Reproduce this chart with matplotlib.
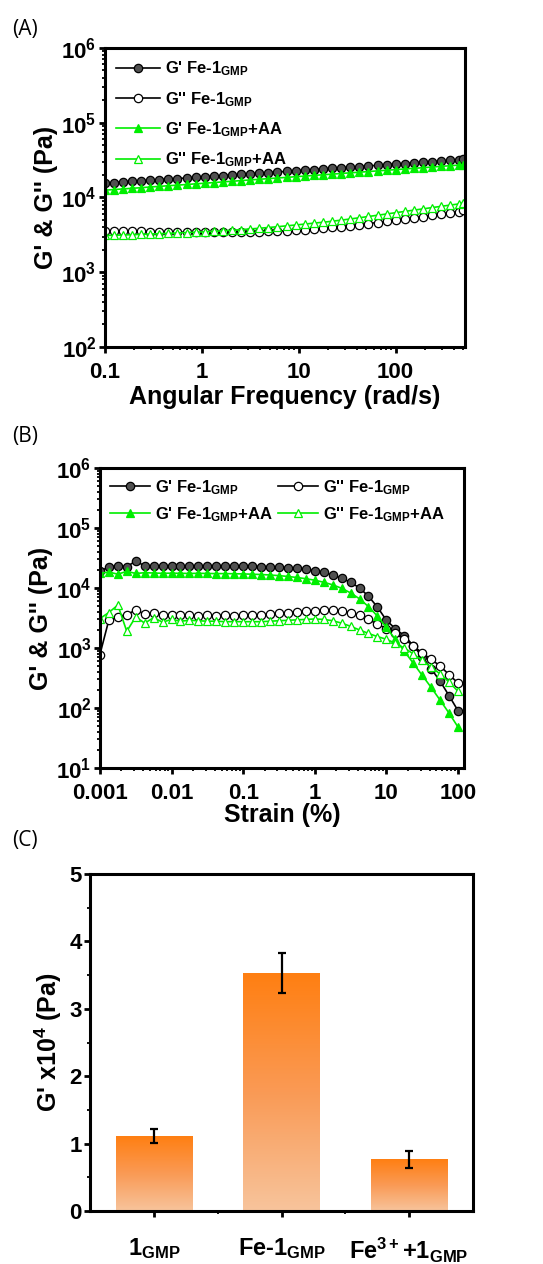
import numpy as np
import matplotlib
matplotlib.use('Agg')
import matplotlib.pyplot as plt
from matplotlib.colors import LinearSegmentedColormap
from matplotlib.ticker import LogLocator, FixedLocator, FuncFormatter, NullFormatter

plt.rcParams['font.family'] = ['Liberation Sans', 'DejaVu Sans']
plt.rcParams['font.weight'] = 'bold'
plt.rcParams['mathtext.fontset'] = 'custom'
plt.rcParams['mathtext.rm'] = 'Liberation Sans:bold'
plt.rcParams['mathtext.bf'] = 'Liberation Sans:bold'
plt.rcParams['mathtext.it'] = 'Liberation Sans:bold'

# ---- panel A data: frequency sweep ----
freq = [0.1, 0.124, 0.154, 0.191, 0.237, 0.294, 0.365, 0.453, 0.562, 0.698,
        0.866, 1.07, 1.33, 1.65, 2.05, 2.55, 3.16, 3.92, 4.87, 6.04,
        7.5, 9.31, 11.5, 14.3, 17.8, 22.1, 27.4, 34, 42.2, 52.4,
        65, 80.7, 100, 124, 154, 191, 237, 294, 365, 453, 500]
a_gp_fe = [15500, 15800, 16100, 16400, 16700, 17000, 17300, 17600, 17900, 18200,
           18500, 18900, 19200, 19600, 19900, 20300, 20700, 21100, 21500, 21900,
           22300, 22700, 23100, 23600, 24000, 24500, 24900, 25400, 25900, 26400,
           26900, 27400, 27900, 28400, 29000, 29500, 30100, 30600, 31200, 31800, 32200]
a_gpp_fe = [3600, 3580, 3560, 3540, 3520, 3500, 3480, 3460, 3440, 3420,
            3400, 3400, 3400, 3410, 3420, 3440, 3460, 3480, 3510, 3540,
            3580, 3640, 3700, 3780, 3870, 3970, 4080, 4200, 4330, 4470,
            4620, 4780, 4950, 5130, 5330, 5540, 5760, 5990, 6230, 6480, 6740]
a_gp_aa = [12500, 12750, 13000, 13250, 13500, 13800, 14050, 14350, 14600, 14900,
           15200, 15500, 15800, 16150, 16450, 16800, 17150, 17500, 17850, 18200,
           18550, 18950, 19300, 19700, 20100, 20500, 20900, 21350, 21750, 22200,
           22650, 23100, 23550, 24050, 24500, 25000, 25500, 26050, 26550, 27100, 27500]
a_gpp_aa = [3100, 3120, 3150, 3180, 3210, 3240, 3280, 3310, 3350, 3390,
            3430, 3470, 3520, 3580, 3640, 3710, 3790, 3870, 3960, 4060,
            4170, 4280, 4400, 4530, 4660, 4800, 4970, 5150, 5350, 5560,
            5780, 6010, 6250, 6500, 6760, 7030, 7310, 7600, 7900, 8200, 8500]

# ---- panel B data: strain sweep ----
strain = [0.001, 0.00133, 0.00178, 0.00237, 0.00316, 0.00422, 0.00562, 0.0075, 0.01, 0.0133,
          0.0178, 0.0237, 0.0316, 0.0422, 0.0562, 0.075, 0.1, 0.133, 0.178, 0.237,
          0.316, 0.422, 0.562, 0.75, 1.0, 1.33, 1.78, 2.37, 3.16, 4.22,
          5.62, 7.5, 10, 13.3, 17.8, 23.7, 31.6, 42.2, 56.2, 75, 100]
b_gp_fe = [19000, 22500, 23500, 22800, 28000, 23500, 23000, 23400, 23200, 23300,
           23200, 23300, 23100, 23200, 23100, 23000, 23000, 22900, 22800, 22600,
           22300, 21900, 21300, 20500, 19500, 18200, 16500, 14500, 12500, 10000,
           7300, 4800, 2900, 2100, 1600, 1100, 720, 450, 280, 160, 90]
b_gpp_fe = [780, 2900, 3300, 3600, 4300, 3700, 3800, 3600, 3500, 3600,
            3500, 3450, 3500, 3450, 3500, 3450, 3500, 3550, 3600, 3700,
            3800, 3900, 4000, 4100, 4200, 4250, 4250, 4150, 3900, 3500,
            3000, 2500, 2100, 1750, 1400, 1100, 820, 650, 500, 360, 260]
b_gp_aa = [17500, 18500, 17000, 19000, 17500, 18000, 17800, 17600, 17700, 17600,
           17500, 17600, 17500, 17400, 17400, 17300, 17200, 17000, 16800, 16500,
           16100, 15600, 15000, 14300, 13500, 12500, 11300, 9900, 8300, 6600,
           4900, 3400, 2200, 1400, 880, 560, 350, 220, 135, 82, 48]
b_gpp_aa = [3100, 3900, 5200, 1900, 3300, 2600, 3200, 2700, 3000, 2800,
            2900, 2850, 2800, 2800, 2750, 2750, 2750, 2750, 2750, 2800,
            2850, 2900, 2950, 3000, 3050, 3000, 2850, 2600, 2300, 2000,
            1750, 1550, 1400, 1200, 1000, 800, 620, 480, 370, 270, 190]

# ---- panel C data ----
samples = [r'1$_{\rm GMP}$', r'Fe-1$_{\rm GMP}$', r'Fe$^{\rm 3+}$+1$_{\rm GMP}$']
gmod = [1.11, 3.53, 0.77]
gerr = [0.105, 0.30, 0.125]

labels = [r"G' Fe-1$_{\rm GMP}$", r"G'' Fe-1$_{\rm GMP}$",
          r"G' Fe-1$_{\rm GMP}$+AA", r"G'' Fe-1$_{\rm GMP}$+AA"]
lime = '#00ee00'
styles = [dict(color='black', marker='o', mfc='#505050', mec='black'),
          dict(color='black', marker='o', mfc='white', mec='black'),
          dict(color=lime, marker='^', mfc=lime, mec=lime),
          dict(color=lime, marker='^', mfc='white', mec=lime)]


def pow_fmt(v, pos):
    e = int(round(np.log10(v)))
    return r'$10^{%d}$' % e


def style_log(ax):
    for s in ax.spines.values():
        s.set_linewidth(2.2)
    ax.tick_params(which='major', direction='out', length=4, width=2, labelsize=16,
                   top=False, right=False, pad=2)
    ax.tick_params(axis='x', which='major', pad=7)
    ax.tick_params(which='minor', direction='out', length=2, width=1.3,
                   top=False, right=False)
    ax.yaxis.set_major_formatter(FuncFormatter(pow_fmt))
    ax.yaxis.set_minor_locator(LogLocator(base=10, subs=np.arange(2, 10)))
    ax.yaxis.set_minor_formatter(NullFormatter())
    ax.xaxis.set_minor_locator(LogLocator(base=10, subs=np.arange(2, 10)))
    ax.xaxis.set_minor_formatter(NullFormatter())


fig = plt.figure(figsize=(5.43, 12.64), dpi=100)

# ---------------- (A) ----------------
axA = fig.add_axes([0.193, 0.7255, 0.663, 0.2366])
for ys, st, lb in zip([a_gp_fe, a_gpp_fe, a_gp_aa, a_gpp_aa], styles, labels):
    axA.plot(freq, ys, lw=1.2, ms=6, mew=0.9, label=lb, **st)
axA.set_xscale('log')
axA.set_yscale('log')
axA.set_xlim(0.1, 517)
axA.set_ylim(1e2, 1e6)
style_log(axA)
axA.xaxis.set_major_locator(FixedLocator([0.1, 1, 10, 100]))
axA.set_xticklabels(['0.1', '1', '10', '100'])
axA.set_xlabel('Angular Frequency (rad/s)', fontsize=18, fontweight='bold', labelpad=1)
axA.set_ylabel("G' & G'' (Pa)", fontsize=18, fontweight='bold', labelpad=2)
axA.legend(loc='upper left', frameon=False, handlelength=2.6,
           handletextpad=0.3, labelspacing=0.7, borderaxespad=0.3,
           prop={'weight': 'bold', 'size': 12})
fig.text(0.022, 0.985, '(A)', fontsize=15, fontweight='normal', family='Open Sans',
         va='top', ha='left')

# ---------------- (B) ----------------
axB = fig.add_axes([0.184, 0.3924, 0.670, 0.2373])
for ys, st, lb in zip([b_gp_fe, b_gpp_fe, b_gp_aa, b_gpp_aa], styles, labels):
    axB.plot(strain, ys, lw=1.2, ms=6, mew=0.9, label=lb, **st)
axB.set_xscale('log')
axB.set_yscale('log')
axB.set_xlim(0.001, 120)
axB.set_ylim(1e1, 1e6)
style_log(axB)
axB.xaxis.set_major_locator(FixedLocator([0.001, 0.01, 0.1, 1, 10, 100]))
axB.set_xticklabels(['0.001', '0.01', '0.1', '1', '10', '100'])
axB.set_xlabel('Strain (%)', fontsize=18, fontweight='bold', labelpad=-1)
axB.set_ylabel("G' & G'' (Pa)", fontsize=18, fontweight='bold', labelpad=2)
hB, lB = axB.get_legend_handles_labels()
axB.legend([hB[0], hB[2], hB[1], hB[3]], [lB[0], lB[2], lB[1], lB[3]],
           loc='upper left', ncol=2, frameon=False, handlelength=2.4,
           handletextpad=0.3, labelspacing=0.5, columnspacing=0.3,
           borderaxespad=0.2, prop={'weight': 'bold', 'size': 12})
fig.text(0.022, 0.663, '(B)', fontsize=15, fontweight='normal', family='Open Sans',
         va='top', ha='left')

# ---------------- (C) ----------------
axC = fig.add_axes([0.166, 0.0419, 0.705, 0.2666])
pos = [1, 2, 3]
w = 0.6
cmap = LinearSegmentedColormap.from_list('og', ['#f7c49c', '#fa9a55', '#ff7f12'])
grad = np.linspace(0, 1, 256).reshape(-1, 1)
for xi, v in zip(pos, gmod):
    axC.imshow(grad, extent=[xi - w / 2, xi + w / 2, 0, v], origin='lower',
               aspect='auto', cmap=cmap, zorder=2)
axC.errorbar(pos, gmod, yerr=gerr, fmt='none', ecolor='black', elinewidth=1.6,
             capsize=3, capthick=1.6, zorder=3)
axC.set_xlim(0.5, 3.5)
axC.set_ylim(0, 5)
for s in axC.spines.values():
    s.set_linewidth(2.2)
axC.set_xticks(pos)
axC.set_xticklabels(samples, fontsize=17, fontweight='bold')
axC.set_xticks([1.5, 2.5], minor=True)
axC.set_yticks([0, 1, 2, 3, 4, 5])
axC.set_yticks(np.arange(0.5, 5, 1), minor=True)
axC.tick_params(which='major', direction='out', length=4, width=2, labelsize=16, pad=2)
axC.tick_params(axis='x', which='major', pad=14, labelsize=17)
axC.tick_params(which='minor', direction='out', length=2, width=1.3)
axC.set_ylabel(r"G' x10$^{\rm 4}$ (Pa)", fontsize=18, fontweight='bold', labelpad=4)
fig.text(0.022, 0.343, '(C)', fontsize=15, fontweight='normal', family='Open Sans',
         va='top', ha='left')

fig.savefig('out.png', dpi=100)
